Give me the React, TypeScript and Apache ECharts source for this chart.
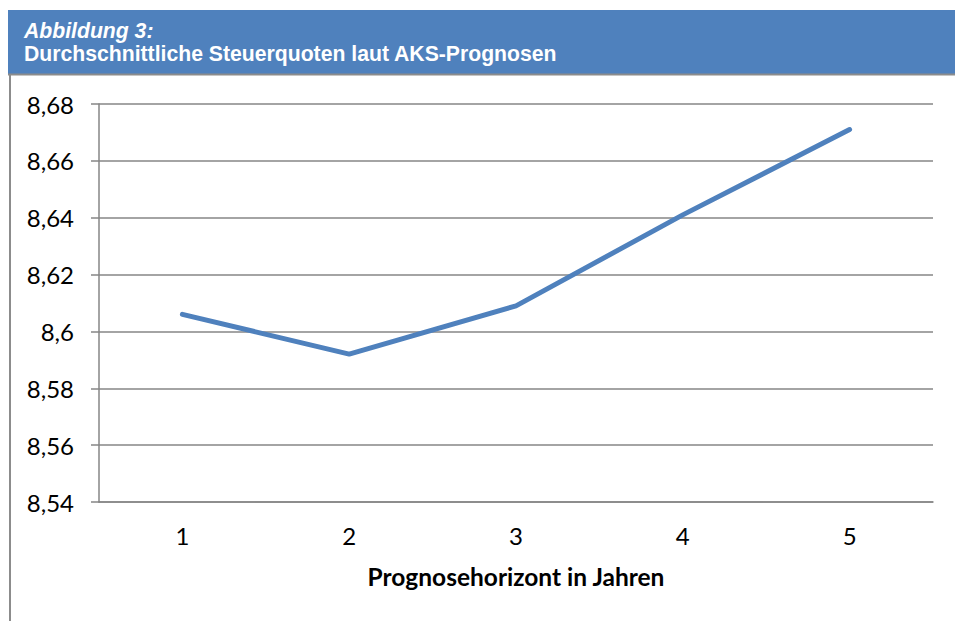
import React, { useEffect, useRef } from "react";
import * as echarts from "echarts";

const categories = ["1", "2", "3", "4", "5"];
const values = [8.606, 8.592, 8.609, 8.641, 8.671];
const yMin = 8.54;
const yMax = 8.68;
const yStep = 0.02;
const titleLine1 = "Abbildung 3:";
const titleLine2 = "Durchschnittliche Steuerquoten laut AKS-Prognosen";
const xName = "Prognosehorizont in Jahren";

export default function App() {
  const ref = useRef<HTMLDivElement>(null);
  useEffect(() => {
    document.body.style.margin = "0";
    const chart = echarts.init(ref.current!, null, { renderer: "svg" });
    const grey = "#868686";
    const headFont = "'Liberation Sans', Arial, sans-serif";
    const bodyFont = "Lato, 'Noto Sans', sans-serif";
    chart.setOption({
      animation: false,
      backgroundColor: "#ffffff",
      grid: { left: 99, right: 22, top: 104, bottom: 119 },
      graphic: [
        { type: "rect", shape: { x: 8, y: 10, width: 947, height: 64 }, style: { fill: "#4F81BD" } },
        { type: "line", shape: { x1: 8, y1: 74.5, x2: 955, y2: 74.5 }, style: { stroke: "#8c8c8c", lineWidth: 2 } },
        { type: "line", shape: { x1: 10, y1: 74, x2: 10, y2: 621 }, style: { stroke: "#8c8c8c", lineWidth: 2 } },
        {
          type: "text", x: 24, y: 30,
          style: {
            text: titleLine1, fill: "#ffffff", fontSize: 21.2, fontWeight: "bold", fontStyle: "italic",
            fontFamily: headFont, verticalAlign: "middle", align: "left",
          },
        },
        {
          type: "text", x: 24, y: 53,
          style: {
            text: titleLine2, fill: "#ffffff", fontSize: 21.2, fontWeight: "bold",
            fontFamily: headFont, verticalAlign: "middle", align: "left",
          },
        },
      ],
      xAxis: {
        type: "category",
        data: categories,
        boundaryGap: true,
        axisLine: { show: true, lineStyle: { color: grey, width: 1.5 } },
        axisTick: { show: false },
        axisLabel: { color: "#000", fontSize: 24, fontFamily: bodyFont, margin: 21 },
        name: xName,
        nameLocation: "middle",
        nameGap: 62,
        nameTextStyle: { color: "#000", fontSize: 24.5, fontWeight: "bold", fontFamily: bodyFont },
      },
      yAxis: {
        type: "value",
        min: yMin,
        max: yMax,
        interval: yStep,
        axisLine: { show: true, lineStyle: { color: grey, width: 1.5 } },
        axisTick: { show: true, length: 8, lineStyle: { color: grey, width: 1.5 } },
        splitLine: { show: true, lineStyle: { color: grey, width: 1.5 } },
        axisLabel: {
          color: "#000", fontSize: 24, fontFamily: bodyFont, margin: 25,
          formatter: (v: number) => String(Number(v.toFixed(2))).replace(".", ","),
        },
      },
      series: [
        {
          type: "line",
          data: values,
          symbol: "none",
          lineStyle: { color: "#4F81BD", width: 5, cap: "round" },
        },
      ],
    });
    return () => chart.dispose();
  }, []);
  return <div ref={ref} style={{ width: 955, height: 621 }} />;
}
